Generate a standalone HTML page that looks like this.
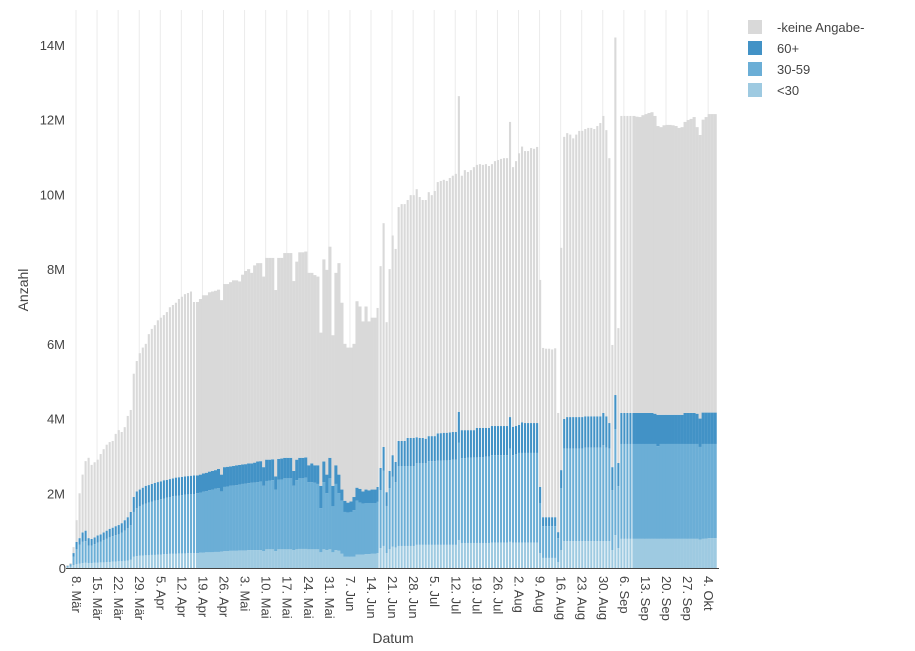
<!DOCTYPE html>
<html><head><meta charset="utf-8"><style>
body{margin:0;background:#fff;}
svg{display:block;font-family:"Liberation Sans",sans-serif;}
</style></head><body>
<svg id="chart" width="915" height="651" viewBox="0 0 915 651" xmlns="http://www.w3.org/2000/svg">
<g id="grid"></g>
<g id="bars"></g>
<line x1="66" y1="568.5" x2="719" y2="568.5" stroke="#444" stroke-width="1"/>
<g id="yticks" font-size="13" fill="#444" text-anchor="end"></g>
<g id="xticks" font-size="13" fill="#444"></g>
<text x="28" y="290" font-size="14" fill="#444" text-anchor="middle" transform="rotate(-90 28 290)">Anzahl</text>
<text x="393" y="643" font-size="14" fill="#444" text-anchor="middle">Datum</text>
<g font-size="13" fill="#444">
<g><rect x="748" y="20" width="14" height="14" fill="#d9d9d9"/><text x="777" y="32">-keine Angabe-</text></g>
<g><rect x="748" y="41" width="14" height="14" fill="#4292c6"/><text x="777" y="53">60+</text></g>
<g><rect x="748" y="62" width="14" height="14" fill="#6baed6"/><text x="777" y="74">30-59</text></g>
<g><rect x="748" y="83" width="14" height="14" fill="#9ecae1"/><text x="777" y="95">&lt;30</text></g>
</g>
</svg>
<script>
// values in millions, one per day starting 6. Mär (10 days per line)
const under30 = [
.02,.04,.08,.1,.12,.13,.14,.13,.13,.14,
.14,.15,.15,.16,.16,.17,.17,.18,.18,.19,
.2,.22,.3,.32,.33,.33,.34,.34,.35,.35,
.36,.36,.37,.37,.38,.38,.38,.39,.39,.39,
.4,.4,.4,.4,.41,.41,.42,.42,.42,.43,
.43,.44,.45,.45,.46,.46,.46,.47,.47,.47,
.48,.48,.48,.48,.48,.45,.5,.5,.5,.45,
.5,.5,.5,.5,.5,.48,.5,.51,.51,.51,
.5,.5,.5,.5,.42,.5,.48,.5,.42,.48,
.46,.38,.3,.3,.3,.3,.36,.36,.36,.37,
.37,.38,.38,.4,.53,.59,.4,.5,.57,.55,
.59,.59,.59,.59,.59,.59,.62,.62,.62,.62,
.62,.62,.62,.62,.62,.62,.62,.62,.62,.62,
.75,.67,.67,.67,.67,.67,.67,.67,.67,.67,
.67,.68,.68,.68,.68,.68,.68,.7,.68,.68,
.68,.68,.68,.68,.68,.68,.68,.4,.27,.27,
.27,.27,.27,.16,.48,.72,.72,.72,.72,.72,
.72,.72,.72,.72,.72,.72,.72,.72,.72,.72,
.72,.48,.88,.53,.78,.78,.78,.78,.78,.78,
.78,.78,.78,.78,.78,.78,.78,.78,.78,.78,
.78,.78,.78,.78,.78,.78,.78,.78,.78,.78,
.76,.78,.79,.8,.8,.8];
const age30to59 = [
.01,.04,.22,.4,.5,.57,.58,.47,.47,.5,
.54,.55,.6,.62,.66,.68,.71,.72,.77,.81,
.87,.93,1.2,1.28,1.32,1.37,1.38,1.41,1.43,1.45,
1.46,1.48,1.49,1.51,1.52,1.54,1.55,1.55,1.56,1.57,
1.57,1.58,1.58,1.6,1.61,1.63,1.64,1.66,1.68,1.69,
1.71,1.61,1.72,1.73,1.74,1.75,1.76,1.76,1.78,1.79,
1.79,1.8,1.81,1.82,1.83,1.75,1.83,1.84,1.85,1.65,
1.86,1.87,1.9,1.9,1.9,1.72,1.85,1.89,1.89,1.91,
1.8,1.8,1.78,1.75,1.18,1.8,1.52,1.9,1.23,1.77,
1.54,1.42,1.2,1.18,1.2,1.25,1.44,1.39,1.36,1.37,
1.37,1.36,1.36,1.37,1.55,2.01,1.26,1.64,1.87,1.75,
2.14,2.14,2.14,2.14,2.14,2.14,2.19,2.19,2.19,2.19,
2.24,2.24,2.24,2.25,2.25,2.26,2.26,2.27,2.28,2.28,
2.6,2.27,2.27,2.28,2.28,2.29,2.29,2.3,2.3,2.31,
2.31,2.34,2.34,2.34,2.34,2.34,2.34,2.5,2.34,2.37,
2.4,2.4,2.4,2.4,2.4,2.4,2.4,1.34,.85,.85,
.85,.85,.85,.64,1.66,2.48,2.48,2.48,2.48,2.48,
2.48,2.48,2.5,2.5,2.5,2.5,2.5,2.5,2.57,2.5,
2.48,1.6,2.84,1.66,2.54,2.54,2.54,2.54,2.54,2.54,
2.54,2.54,2.54,2.54,2.54,2.54,2.48,2.54,2.54,2.54,
2.54,2.54,2.54,2.54,2.54,2.54,2.54,2.54,2.54,2.54,
2.48,2.54,2.53,2.52,2.52,2.52];
const age60plus = [
.02,.02,.1,.2,.18,.25,.28,.2,.18,.18,
.19,.2,.2,.22,.23,.23,.24,.25,.25,.28,
.29,.35,.4,.45,.45,.45,.48,.47,.47,.48,
.48,.48,.49,.48,.48,.48,.49,.49,.49,.49,
.49,.49,.5,.48,.48,.49,.49,.5,.5,.5,
.51,.45,.53,.53,.52,.52,.53,.53,.52,.52,
.53,.52,.53,.55,.55,.5,.57,.56,.56,.35,
.56,.56,.55,.55,.55,.4,.55,.55,.55,.54,
.45,.5,.47,.5,.6,.55,.5,.55,.55,.5,
.5,.3,.3,.27,.28,.35,.35,.37,.33,.36,
.34,.36,.36,.4,.6,.64,.37,.46,.58,.54,
.67,.67,.67,.75,.75,.75,.69,.67,.67,.65,
.67,.67,.67,.73,.74,.74,.74,.74,.74,.74,
.83,.75,.75,.74,.74,.73,.79,.78,.78,.77,
.77,.78,.78,.78,.78,.78,.78,.84,.76,.75,
.75,.82,.8,.8,.8,.8,.8,.43,.24,.24,
.24,.24,.24,.16,.48,.79,.84,.84,.84,.84,
.84,.84,.84,.84,.84,.84,.84,.84,.86,.84,
.68,.62,.91,.62,.83,.83,.83,.83,.83,.83,
.83,.83,.83,.83,.83,.81,.84,.78,.78,.78,
.78,.78,.78,.78,.78,.83,.83,.83,.83,.81,
.76,.84,.84,.84,.84,.84];
const unknown = [
.03,.03,.16,.58,1.2,1.55,1.86,2.15,1.98,2.01,
2.03,2.15,2.23,2.3,2.32,2.32,2.47,2.54,2.44,2.49,
2.71,2.73,3.3,3.49,3.65,3.75,3.8,4.04,4.15,4.22,
4.33,4.38,4.42,4.49,4.6,4.64,4.68,4.77,4.82,4.88,
4.9,4.93,4.64,4.64,4.7,4.77,4.75,4.8,4.8,4.8,
4.8,4.67,4.9,4.89,4.93,4.97,4.95,4.91,5.08,5.17,
5.2,5.1,5.28,5.31,5.3,5.1,5.4,5.4,5.39,4.99,
5.38,5.37,5.48,5.48,5.48,5.08,5.3,5.5,5.5,5.51,
5.15,5.1,5.09,5.05,4.1,5.41,5.48,5.65,4.03,5.15,
5.66,5.0,4.2,4.15,4.12,4.1,4.99,4.88,4.55,4.9,
4.52,4.6,4.6,4.79,5.4,5.99,4.55,5.4,5.88,5.7,
6.26,6.34,6.34,6.37,6.5,6.5,6.64,6.45,6.37,6.39,
6.53,6.45,6.56,6.73,6.75,6.77,6.74,6.81,6.86,6.91,
8.45,6.81,6.96,6.91,6.96,7.04,7.04,7.06,7.04,7.06,
7.01,7.01,7.09,7.12,7.15,7.17,7.17,7.9,6.95,7.09,
7.27,7.38,7.28,7.28,7.36,7.34,7.39,5.54,4.53,4.51,
4.51,4.49,4.52,3.19,5.95,7.55,7.6,7.56,7.46,7.56,
7.66,7.66,7.69,7.72,7.72,7.69,7.77,7.85,7.95,7.66,
7.09,3.27,9.57,3.61,7.95,7.95,7.95,7.95,7.95,7.93,
7.92,7.97,8.0,8.03,8.05,7.97,7.73,7.7,7.75,7.76,
7.76,7.75,7.73,7.68,7.7,7.79,7.84,7.87,7.92,7.67,
7.59,7.84,7.91,7.99,7.99,7.99];
const yTickValues = [0,2,4,6,8,10,12,14];
const yTickLabels = ["0","2M","4M","6M","8M","10M","12M","14M"];
const xTickLabels = ["8. Mär","15. Mär","22. Mär","29. Mär","5. Apr","12. Apr","19. Apr","26. Apr","3. Mai","10. Mai","17. Mai","24. Mai","31. Mai","7. Jun","14. Jun","21. Jun","28. Jun","5. Jul","12. Jul","19. Jul","26. Jul","2. Aug","9. Aug","16. Aug","23. Aug","30. Aug","6. Sep","13. Sep","20. Sep","27. Sep","4. Okt"];
const firstTickDay = 2;

const NS = "http://www.w3.org/2000/svg";
const X0 = 68, DX = 3.01, Y0 = 568, PERM = 37.36;
function xScale(d){ return X0 + DX * d; }
function yScale(v){ return Y0 - v * PERM; }

const grid = document.getElementById('grid');
const xt = document.getElementById('xticks');
xTickLabels.forEach((lab, i) => {
  const gx = xScale(firstTickDay + 7 * i) + 2;
  const l = document.createElementNS(NS, 'line');
  
  
  l.setAttribute('x1', gx); l.setAttribute('x2', gx);
  l.setAttribute('y1', 10); l.setAttribute('y2', 568);
  l.setAttribute('stroke', '#ebebeb'); l.setAttribute('stroke-width', '1');
  grid.appendChild(l);
  const t = document.createElementNS(NS, 'text');
  
  
  t.setAttribute('x', gx - 4); t.setAttribute('y', 576);
  t.setAttribute('transform', 'rotate(90 ' + (gx - 4) + ' 576)');
  t.textContent = lab;
  xt.appendChild(t);
});

const yt = document.getElementById('yticks');
yTickValues.forEach((v, i) => {
  const t = document.createElementNS(NS, 'text');
  
  
  t.setAttribute('x', i === 0 ? 66 : 65);
  t.setAttribute('y', yScale(v) + 5);
  t.textContent = yTickLabels[i];
  yt.appendChild(t);
});

const bars = document.getElementById('bars');
const series = [[under30, '#9ecae1', 'bar-under-30'], [age30to59, '#6baed6', 'bar-30-59'], [age60plus, '#4292c6', 'bar-60-plus'], [unknown, '#d9d9d9', 'bar-keine-angabe']];
const n = Math.min(under30.length, age30to59.length, age60plus.length, unknown.length);
for (let d = 0; d < n; d++) {
  const gapped = (d <= 42) || (d >= 103 && d <= 187);
  const w = gapped ? 2.1 : 3.1;
  const left = xScale(d) - 1.5;
  let base = 0;
  series.forEach(s => {
    const v = s[0][d] || 0;
    const r = document.createElementNS(NS, 'rect');
    
    
    r.setAttribute('x', left.toFixed(2));
    r.setAttribute('width', w);
    r.setAttribute('y', yScale(base + v).toFixed(2));
    r.setAttribute('height', (v * PERM).toFixed(2));
    r.setAttribute('fill', s[1]);
    bars.appendChild(r);
    base += v;
  });
}
</script>
</body></html>
